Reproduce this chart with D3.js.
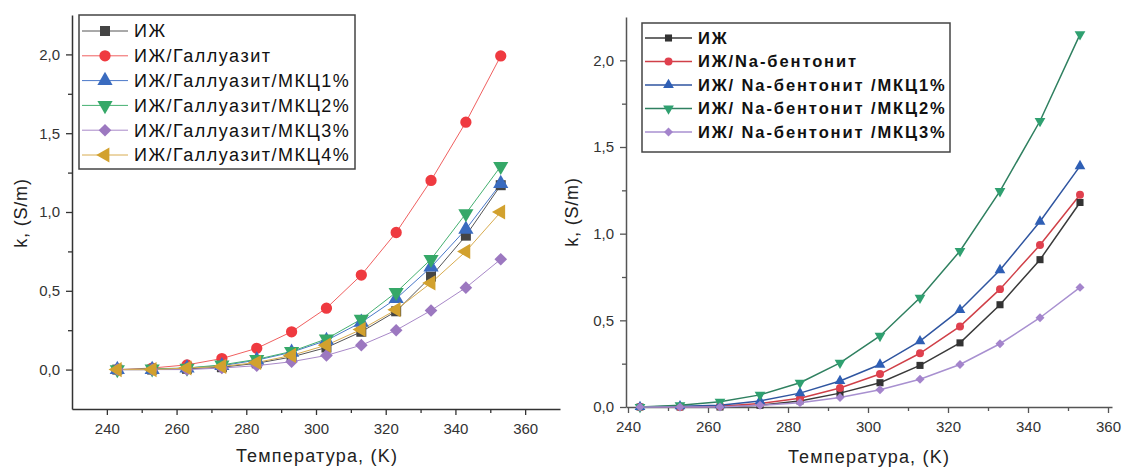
<!DOCTYPE html>
<html>
<head>
<meta charset="utf-8">
<script src="https://cdn.jsdelivr.net/npm/d3@7"></script>
<style>
  body { margin: 0; background: #fff; }
  svg { display: block; font-family: "Liberation Sans", Arial, sans-serif; }
  .tick text { fill: #333; }
</style>
</head>
<body>
<svg width="1127" height="470"></svg>
<script>
// temperatures (K), same for both panels
var temps = [243, 253, 263, 273, 283, 293, 303, 313, 323, 333, 343, 353];

// left panel: ИЖ / Галлуазит
var leftNames = ['ИЖ', 'ИЖ/Галлуазит', 'ИЖ/Галлуазит/МКЦ1%', 'ИЖ/Галлуазит/МКЦ2%', 'ИЖ/Галлуазит/МКЦ3%', 'ИЖ/Галлуазит/МКЦ4%'];
var leftIL   = [0, 0, 0.005, 0.015, 0.04, 0.08, 0.14, 0.24, 0.37, 0.59, 0.85, 1.17];
var leftHal  = [0, 0.01, 0.03, 0.07, 0.135, 0.24, 0.39, 0.60, 0.87, 1.20, 1.57, 1.99];
var leftMkc1 = [0, 0, 0.01, 0.025, 0.06, 0.11, 0.185, 0.30, 0.45, 0.65, 0.89, 1.18];
var leftMkc2 = [0, 0.005, 0.01, 0.03, 0.065, 0.115, 0.195, 0.32, 0.49, 0.70, 0.99, 1.29];
var leftMkc3 = [0, 0, 0, 0.01, 0.025, 0.05, 0.09, 0.155, 0.25, 0.375, 0.52, 0.70];
var leftMkc4 = [0, 0, 0.01, 0.02, 0.045, 0.09, 0.155, 0.255, 0.38, 0.55, 0.75, 1.00];

// right panel: ИЖ / Na-бентонит
var rightNames = ['ИЖ', 'ИЖ/Na-бентонит', 'ИЖ/ Na-бентонит /МКЦ1%', 'ИЖ/ Na-бентонит /МКЦ2%', 'ИЖ/ Na-бентонит /МКЦ3%'];
var rightIL   = [0, 0, 0, 0.01, 0.035, 0.08, 0.14, 0.24, 0.37, 0.59, 0.85, 1.18];
var rightBent = [0, 0, 0.005, 0.02, 0.05, 0.11, 0.19, 0.31, 0.465, 0.68, 0.935, 1.225];
var rightMkc1 = [0, 0.005, 0.01, 0.035, 0.08, 0.15, 0.245, 0.38, 0.56, 0.79, 1.07, 1.39];
var rightMkc2 = [0, 0.01, 0.03, 0.07, 0.14, 0.255, 0.41, 0.63, 0.90, 1.245, 1.65, 2.15];
var rightMkc3 = [0, 0, 0, 0.01, 0.025, 0.055, 0.10, 0.16, 0.245, 0.365, 0.515, 0.69];

var yTicks = [0, 0.5, 1.0, 1.5, 2.0];
var xTicks = [240, 260, 280, 300, 320, 340, 360];

var svg = d3.select('svg');
svg.append('rect').attr('width', 1127).attr('height', 470).attr('fill', '#fff');

function fmt(d) { return d3.format('.1f')(d).replace('.', ','); }

// symbol shape + rotation for each marker kind
var markers = [
  { type: d3.symbolSquare, rot: 0, k: 1 },
  { type: d3.symbolCircle, rot: 0, k: 1 },
  { type: d3.symbolTriangle, rot: 0, k: 1 },
  { type: d3.symbolTriangle, rot: 180, k: 1 },
  { type: d3.symbolSquare, rot: 45, k: 0.8 },
  { type: d3.symbolTriangle, rot: -90, k: 1 }
];

function drawPanel(p) {
  var x = d3.scaleLinear().domain(p.xDomain).range([p.left, p.right]);
  var y = d3.scaleLinear().domain(p.yDomain).range([p.bottom, p.top]);
  var g = svg.append('g');

  // minor ticks
  var xMinor = d3.range(p.xDomain[0] <= 230 ? 230 : 250, 370, 20).filter(function(v) { return v > p.xDomain[0] && v < p.xDomain[1]; });
  var yMinor = [-0.25, 0.25, 0.75, 1.25, 1.75].filter(function(v) { return v > p.yDomain[0]; });

  g.append('g').attr('transform', 'translate(0,' + p.bottom + ')')
    .call(d3.axisBottom(x).tickValues(xTicks).tickSize(6).tickPadding(8).tickSizeOuter(0));
  g.append('g').attr('transform', 'translate(0,' + p.bottom + ')')
    .call(d3.axisBottom(x).tickValues(xMinor).tickSize(4).tickFormat('').tickSizeOuter(0))
    .select('.domain').remove();
  g.append('g').attr('transform', 'translate(' + p.left + ',0)')
    .call(d3.axisLeft(y).tickValues(yTicks).tickSize(6).tickPadding(6).tickFormat(fmt).tickSizeOuter(0));
  g.append('g').attr('transform', 'translate(' + p.left + ',0)')
    .call(d3.axisLeft(y).tickValues(yMinor).tickSize(4).tickFormat('').tickSizeOuter(0))
    .select('.domain').remove();

  g.selectAll('.domain').attr('stroke', p.axisColor).attr('stroke-width', 1.5);
  g.selectAll('.tick line').attr('stroke', p.axisColor).attr('stroke-width', 1.3);
  g.selectAll('.tick text').attr('font-size', 15).attr('fill', p.tickColor)
    .attr('font-family', '"Liberation Sans", Arial, sans-serif');

  // axis titles
  g.append('text').attr('x', p.yTitleX).attr('y', p.yTitleY)
    .attr('transform', 'rotate(-90,' + p.yTitleX + ',' + p.yTitleY + ')')
    .attr('text-anchor', 'middle').attr('font-size', 18).attr('letter-spacing', 0.8).attr('fill', '#222')
    .text('k, (S/m)');
  g.append('text').attr('x', p.xTitleX).attr('y', p.xTitleY)
    .attr('text-anchor', 'middle').attr('font-size', 18).attr('letter-spacing', 1.2).attr('fill', '#222')
    .text('Температура, (K)');

  var line = d3.line().x(function(d) { return x(d[0]); }).y(function(d) { return y(d[1]); });

  p.series.forEach(function(s) {
    var pts = temps.map(function(t, k) { return [t, s.values[k]]; });
    g.append('path').datum(pts).attr('d', line)
      .attr('fill', 'none').attr('stroke', s.line).attr('stroke-width', p.lineWidth);
  });
  p.series.forEach(function(s) {
    var pts = temps.map(function(t, k) { return [t, s.values[k]]; });
    var m = markers[s.marker];
    g.selectAll(null).data(pts).enter().append('path')
      .attr('d', d3.symbol().type(m.type).size(p.markerSize * m.k))
      .attr('transform', function(d) { return 'translate(' + x(d[0]) + ',' + y(d[1]) + ') rotate(' + m.rot + ')'; })
      .attr('fill', s.color);
  });

  // legend
  var lg = g.append('g');
  lg.append('rect').attr('x', p.legend.x).attr('y', p.legend.y)
    .attr('width', p.legend.w).attr('height', p.legend.h)
    .attr('fill', '#fff').attr('stroke', '#444').attr('stroke-width', 1.5);
  p.series.forEach(function(s, i) {
    var ly = p.legend.y + p.legend.first + i * p.legend.step;
    lg.append('line').attr('x1', p.legend.x + 3).attr('x2', p.legend.x + p.legend.sample)
      .attr('y1', ly).attr('y2', ly).attr('stroke', s.line).attr('stroke-width', p.lineWidth);
    var m = markers[s.marker];
    lg.append('path').attr('d', d3.symbol().type(m.type).size(p.markerSize * m.k))
      .attr('transform', 'translate(' + (p.legend.x + 3 + (p.legend.sample - 3) / 2) + ',' + ly + ') rotate(' + m.rot + ')')
      .attr('fill', s.color);
    lg.append('text').attr('x', p.legend.x + p.legend.sample + 6).attr('y', ly)
      .attr('dy', '0.36em').attr('font-size', p.legend.font).attr('font-weight', p.legend.weight)
      .attr('letter-spacing', p.legend.spacing)
      .attr('fill', '#111').text(s.name);
  });
}

drawPanel({
  xDomain: [230, 370], yDomain: [-0.25, 2.25],
  left: 72, right: 560, top: 15, bottom: 409,
  axisColor: '#333', tickColor: '#333',
  lineWidth: 1, markerSize: 100,
  yTitleX: 27, yTitleY: 213, xTitleX: 317, xTitleY: 462,
  legend: { x: 79, y: 15, w: 276, h: 154, first: 16, step: 24.8, sample: 49, font: 18, weight: 'normal', spacing: 1.5 },
  series: [
    { name: leftNames[0], values: leftIL,   color: '#444', line: '#555', marker: 0 },
    { name: leftNames[1], values: leftHal,  color: '#ef3a40', line: '#f06060', marker: 1 },
    { name: leftNames[2], values: leftMkc1, color: '#3a6bbf', line: '#4a78c8', marker: 2 },
    { name: leftNames[3], values: leftMkc2, color: '#35a868', line: '#45b070', marker: 3 },
    { name: leftNames[4], values: leftMkc3, color: '#9c78c0', line: '#a888c8', marker: 4 },
    { name: leftNames[5], values: leftMkc4, color: '#d2a12e', line: '#d8ac50', marker: 5 }
  ]
});

drawPanel({
  xDomain: [239.5, 361], yDomain: [0, 2.25],
  left: 626, right: 1112, top: 17, bottom: 407,
  axisColor: '#555', tickColor: '#333',
  lineWidth: 1.5, markerSize: 50,
  yTitleX: 578, yTitleY: 212, xTitleX: 869, xTitleY: 463,
  legend: { x: 642, y: 23, w: 308, h: 129, first: 15, step: 23.5, sample: 50, font: 16.5, weight: 'bold', spacing: 1.9 },
  series: [
    { name: rightNames[0], values: rightIL,   color: '#333', line: '#3a3a3a', marker: 0 },
    { name: rightNames[1], values: rightBent, color: '#e0404e', line: '#d04048', marker: 1 },
    { name: rightNames[2], values: rightMkc1, color: '#2f5fb5', line: '#2f55a0', marker: 2 },
    { name: rightNames[3], values: rightMkc2, color: '#2fa070', line: '#2f8060', marker: 3 },
    { name: rightNames[4], values: rightMkc3, color: '#a484cc', line: '#a890d0', marker: 4 }
  ]
});
</script>
</body>
</html>
